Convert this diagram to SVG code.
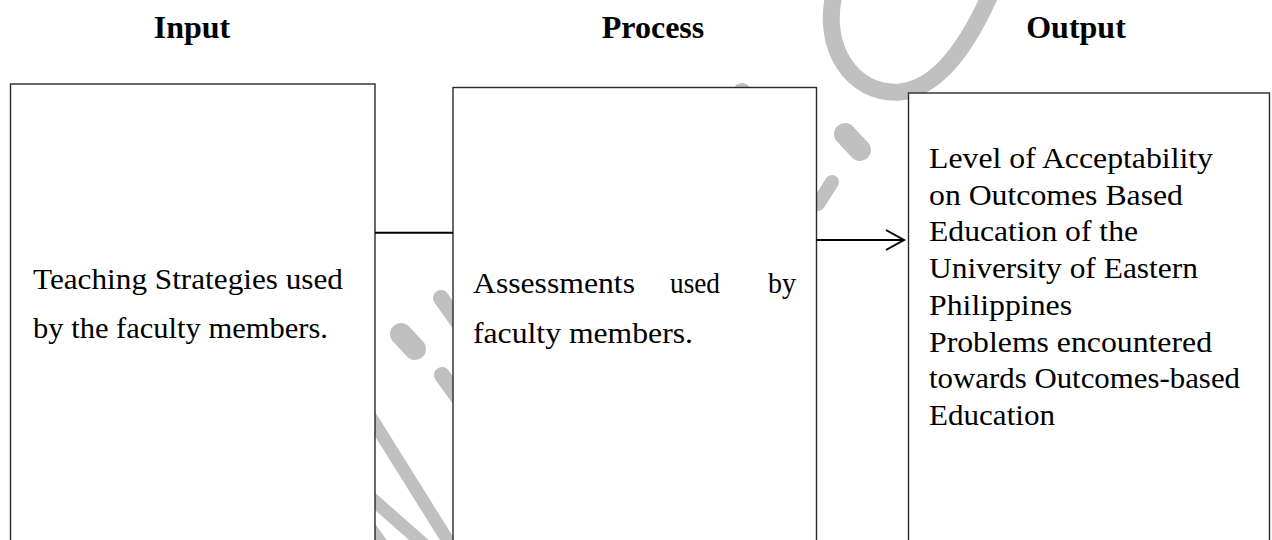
<svg xmlns="http://www.w3.org/2000/svg" width="1272" height="540" viewBox="0 0 1272 540">
  <style>
    .title { font-family: "Liberation Serif", "Times New Roman", serif; font-weight: bold; font-size: 32px; fill: #000; text-anchor: middle; }
    .body { font-family: "Liberation Serif", "Times New Roman", serif; font-size: 29px; fill: #000; }
    .body3 { font-family: "Liberation Serif", "Times New Roman", serif; font-size: 30px; fill: #000; }
    .box { fill: #fff; stroke: #2a2a2a; stroke-width: 1.4; }
    .wm { fill: none; stroke: #c0c0c0; stroke-linecap: round; }
    .conn { fill: none; stroke: #000; stroke-width: 2; }
  </style>
  <defs>
    <marker id="open-arrow" markerUnits="userSpaceOnUse" viewBox="0 0 24 24" refX="20" refY="12" markerWidth="24" markerHeight="24" orient="auto">
      <path d="M2 2 L20 12 L2 22" fill="none" stroke="#000" stroke-width="2"/>
    </marker>
  </defs>
  <rect x="0" y="0" width="1272" height="540" fill="#fff"/>

  <g id="watermark">
    <path class="wm" stroke-width="17" d="M834 -5 C822 45 850 95 900 92 C940 88 970 40 990 -5"/>
    <path class="wm" stroke-width="22" d="M845 134 L860 150"/>
    <path class="wm" stroke-width="18" d="M742 92 L748 100"/>
    <path class="wm" stroke-width="14" d="M832 182 L818 204"/>
    <path class="wm" stroke-width="22" d="M401 334 L415 349"/>
    <path class="wm" stroke-width="16" d="M441 298 L460 325"/>
    <path class="wm" stroke-width="16" d="M442 375 L460 400"/>
    <path class="wm" stroke-width="13" d="M360 400 L460 560"/>
    <path class="wm" stroke-width="13" d="M362 490 L428 548"/>
    <path class="wm" stroke-width="10" d="M368 522 L386 548"/>
  </g>

  <g id="title-input"><text class="title" x="192" y="38">Input</text></g>
  <g id="title-process"><text class="title" x="653" y="38">Process</text></g>
  <g id="title-output"><text class="title" x="1076" y="38">Output</text></g>

  <g id="node-input">
    <rect class="box" x="10.5" y="84" width="364.5" height="480"/>
    <text class="body" x="33" y="289" textLength="310" lengthAdjust="spacingAndGlyphs">Teaching Strategies used</text>
    <text class="body" x="33" y="338" textLength="295" lengthAdjust="spacingAndGlyphs">by the faculty members.</text>
  </g>

  <g id="node-process">
    <rect class="box" x="453" y="87.5" width="363.5" height="480"/>
    <text class="body" y="293"><tspan x="473" textLength="162" lengthAdjust="spacingAndGlyphs">Assessments</tspan><tspan x="670" textLength="50" lengthAdjust="spacingAndGlyphs">used</tspan><tspan x="768" textLength="28" lengthAdjust="spacingAndGlyphs">by</tspan></text>
    <text class="body" x="473" y="343" textLength="220" lengthAdjust="spacingAndGlyphs">faculty members.</text>
  </g>

  <g id="node-output">
    <rect class="box" x="908.5" y="93" width="361" height="480"/>
    <text class="body3" x="929" y="168" textLength="284" lengthAdjust="spacingAndGlyphs">Level of Acceptability</text>
    <text class="body3" x="929" y="204.7" textLength="254" lengthAdjust="spacingAndGlyphs">on Outcomes Based</text>
    <text class="body3" x="929" y="241.4" textLength="209" lengthAdjust="spacingAndGlyphs">Education of the</text>
    <text class="body3" x="929" y="278.1" textLength="269" lengthAdjust="spacingAndGlyphs">University of Eastern</text>
    <text class="body3" x="929" y="314.8" textLength="143" lengthAdjust="spacingAndGlyphs">Philippines</text>
    <text class="body3" x="929" y="351.5" textLength="283" lengthAdjust="spacingAndGlyphs">Problems encountered</text>
    <text class="body3" x="929" y="388.2" textLength="311" lengthAdjust="spacingAndGlyphs">towards Outcomes-based</text>
    <text class="body3" x="929" y="424.9" textLength="126" lengthAdjust="spacingAndGlyphs">Education</text>
  </g>

  <g id="connectors">
    <line class="conn" x1="375" y1="232.7" x2="453" y2="232.7"/>
    <line class="conn" x1="816.5" y1="240" x2="904" y2="240" marker-end="url(#open-arrow)"/>
  </g>
</svg>
